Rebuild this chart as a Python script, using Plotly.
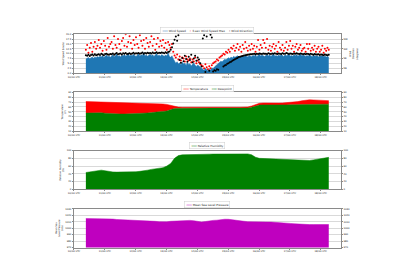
import pandas as pd
import plotly.graph_objects as go

# ---------------- data ----------------
start_time = "2017-07-10 09:15"

wind_speed = [
    7.2, 7.6, 8.0, 7.4, 7.8, 8.2, 7.6, 8.3, 7.9, 8.5,
    8.1, 8.7, 8.3, 9.0, 8.0, 8.5, 9.3, 8.4, 8.8, 8.1,
    8.6, 9.4, 8.4, 8.9, 10.0, 8.5, 9.0, 8.2, 9.2, 8.8,
    9.5, 8.7, 9.1, 10.3, 8.6, 9.3, 8.9, 9.7, 9.0, 8.5,
    9.2, 9.9, 8.7, 9.4, 9.0, 10.6, 8.8, 9.3, 8.6, 9.1,
    9.7, 8.9, 9.4, 8.5, 9.2, 10.1, 8.8, 9.3, 8.7, 9.5,
    9.0, 8.6, 9.3, 8.8, 10.5, 8.5, 8.1, 8.9, 7.4, 6.2,
    5.0, 5.8, 4.6, 5.3, 4.1, 5.6, 4.7, 5.1, 3.9, 5.4,
    4.4, 4.8, 3.6, 4.5, 5.2, 4.0, 3.4, 4.2, 3.7, 3.0,
    2.6, 2.0, 1.4, 2.4, 1.7, 1.1, 1.9, 1.5, 2.7, 2.3,
    3.1, 3.7, 4.4, 5.0, 5.6, 6.1, 5.8, 6.6, 7.1, 6.8,
    7.4, 7.9, 7.5, 8.2, 7.8, 8.6, 8.1, 8.4, 8.9, 8.3,
    8.7, 8.2, 9.0, 8.5, 9.2, 8.6, 8.3, 9.1, 8.8, 8.4,
    9.2, 8.7, 9.5, 8.4, 9.0, 9.8, 8.6, 9.3, 8.9, 8.5,
    9.1, 9.6, 8.8, 9.4, 8.5, 9.2, 9.9, 8.7, 9.0, 8.6,
    9.3, 8.8, 9.7, 9.0, 8.5, 9.4, 8.9, 9.2, 10.0, 8.6,
    9.1, 8.7, 9.4, 8.9, 9.5, 8.6, 9.2, 9.8, 8.8, 9.3,
    9.0, 8.5, 9.1, 8.7, 9.4, 8.9, 8.4, 9.2, 8.8, 8.6,
    9.0, 8.3, 8.9, 8.6, 9.2, 8.4, 8.8, 8.2, 8.6, 8.1,
]

wind_speed_max = [
    12, 14.5, 10.5, 13, 15.5, 11, 13.5, 16, 12.5, 14,
    17, 13, 15, 11.5, 16.5, 14, 12, 18, 13.5, 15,
    16, 12.5, 19, 14.5, 13, 17.5, 15, 12, 16.5, 18,
    14, 20, 13.5, 16, 19, 15.5, 12.5, 17, 14.5, 18.5,
    15, 13, 19.5, 16.5, 14, 17, 12.5, 18, 15.5, 13.5,
    16, 19, 14, 17.5, 12, 15, 18, 13.5, 16.5, 14,
    17, 13, 15.5, 12, 16, 14.5, 13, 15, 11, 9,
    8, 9.5, 7, 8.5, 6.5, 8, 7.5, 6, 8.5, 7,
    6.5, 7.5, 5.5, 7, 6, 8, 5, 6.5, 5.5, 4.5,
    4, 3.5, 2.5, 4.5, 3, 2, 3.5, 2.5, 4, 5,
    5.5, 6, 7, 6.5, 8, 8.5, 9, 10, 9.5, 11,
    10.5, 12, 11, 13, 12.5, 14, 11.5, 13, 15, 12,
    13.5, 11, 14.5, 12.5, 16, 13, 11.5, 14, 12, 15,
    12.5, 14, 11, 13.5, 17, 12, 14.5, 13, 17, 15.5,
    13, 17.5, 12, 14, 11.5, 13.5, 15, 12.5, 14, 11,
    16, 13, 12, 14.5, 11.5, 13, 16, 12, 14, 16.5,
    12.5, 14, 11, 13.5, 15, 12, 13, 14.5, 11.5, 12.5,
    13, 11, 15, 12.5, 15, 11.5, 13, 12, 14, 11,
    12.5, 13.5, 11, 12, 14, 10.5, 12.5, 11.5, 13, 12,
]

wind_direction = [
    165, 160, 170, 158, 168, 172, 162, 175, 166, 170,
    174, 168, 178, 171, 165, 176, 180, 172, 169, 177,
    175, 182, 170, 178, 185, 174, 179, 181, 173, 183,
    178, 186, 176, 180, 184, 177, 182, 188, 179, 183,
    181, 187, 178, 184, 190, 180, 185, 182, 188, 183,
    186, 181, 190, 184, 187, 192, 183, 189, 185, 191,
    188, 184, 193, 187, 195, 200, 215, 240, 275, 310,
    340, 300, 350, 120, 95, 140, 110, 160, 130, 105,
    150, 120, 170, 100, 135, 160, 115, 145, 125, 90,
    60, 320, 350, 10, 340, 365, 20, 355, 330, 15,
    25, 20, 35, 30, 560, 600, 580, 60, 70, 75,
    85, 90, 100, 105, 115, 120, 128, 135, 140, 148,
    150, 155, 158, 162, 165, 168, 170, 172, 175, 174,
    176, 178, 175, 180, 177, 182, 179, 176, 181, 178,
    180, 177, 183, 179, 176, 181, 178, 184, 180, 177,
    182, 179, 176, 183, 180, 178, 185, 181, 177, 182,
    179, 176, 181, 178, 183, 180, 177, 182, 179, 175,
    178, 174, 180, 176, 172, 178, 175, 170, 176, 173,
    171, 175, 168, 173, 170, 166, 172, 168, 165, 170,
]

temperature = [
    71.2, 71.0, 70.8, 70.6, 70.3, 70.0, 69.9, 69.8, 69.7, 69.6,
    69.5, 69.4, 69.2, 69.0, 68.8, 68.5, 68.0, 67.6, 67.1, 66.6,
    66.1, 65.2, 63.0, 60.5, 59.7, 59.5, 59.4, 59.3, 59.3, 59.3,
    59.2, 59.2, 59.2, 59.3, 59.3, 59.4, 59.4, 59.4, 59.5, 59.5,
    59.5, 59.6, 60.0, 62.0, 65.0, 67.5, 68.2, 67.8, 68.0, 68.3,
    67.9, 68.2, 68.6, 68.8, 69.5, 71.0, 72.8, 74.0, 74.8, 74.5,
    73.8, 73.5, 73.2, 73.0,
]

dewpoint = [
    47.3, 47.6, 48.0, 48.2, 48.0, 47.0, 46.3, 45.8, 45.5, 45.4,
    45.4, 45.5, 45.6, 45.8, 46.2, 46.8, 47.5, 48.3, 48.9, 49.5,
    50.2, 51.8, 54.5, 56.8, 57.4, 57.6, 57.6, 57.6, 57.6, 57.6,
    57.5, 57.5, 57.5, 57.6, 57.6, 57.6, 57.6, 57.6, 57.6, 57.6,
    57.6, 57.7, 58.0, 59.5, 62.0, 63.8, 64.2, 64.0, 64.0, 64.1,
    64.0, 64.2, 64.2, 64.5, 64.8, 65.0, 65.2, 65.4, 65.5, 65.6,
    65.6, 65.7, 65.7, 65.8,
]

relative_humidity = [
    43.5, 45, 47.5, 49, 49.5, 48, 46, 45, 44.5, 44.5,
    44.6, 45, 45.2, 45.5, 46.5, 47.5, 49.5, 51.5, 53, 54.5,
    56, 60, 67, 80, 87, 89, 89.5, 90, 90, 90.3,
    90.5, 90.5, 90.8, 91, 91, 91, 91.5, 92, 92, 92,
    92, 92, 91.5, 89, 83, 80, 79.5, 80, 79, 78.5,
    79, 78, 77.5, 77, 77, 76.5, 75.5, 75, 74.5, 76,
    77.5, 79, 81, 82.5,
]

pressure = [
    1014.8, 1014.8, 1014.7, 1014.7, 1014.6, 1014.6, 1014.5, 1014.0, 1013.4, 1013.2,
    1013.2, 1013.0, 1012.8, 1012.3, 1012.1, 1012.0, 1011.8, 1011.2, 1010.5, 1010.0,
    1009.6, 1009.8, 1010.6, 1011.1, 1011.4, 1011.8, 1012.0, 1012.0, 1011.4, 1010.4,
    1009.6, 1010.2, 1011.5, 1012.0, 1012.3, 1013.2, 1013.8, 1013.7, 1013.2, 1012.5,
    1011.5, 1010.6, 1010.0, 1009.7, 1009.6, 1009.6, 1009.6, 1009.5, 1009.4, 1009.2,
    1008.8, 1008.3, 1007.8, 1007.3, 1006.8, 1006.2, 1005.8, 1005.6, 1005.5, 1005.5,
    1005.4, 1005.5, 1005.6, 1005.6,
]

wind_times = pd.date_range(start_time, periods=len(wind_speed), freq="h")
thermo_times = pd.date_range(start_time, periods=len(temperature), freq="3h")

# ---------------- styling ----------------
FONT = "DejaVu Sans"
TICK = 2.4
LEG = 2.9
XDOM = [0.1719, 0.85]
ROWS = [[0.74, 0.88], [0.53, 0.67], [0.32, 0.46], [0.11, 0.25]]
BLUE = "#1f77b4"
RED = "#ff0000"
GREEN = "#008000"
MAG = "#bf00bf"

span = wind_times[-1] - wind_times[0]
xr = [(wind_times[0] - 0.05 * span).strftime("%Y-%m-%d %H:%M:%S"),
      (wind_times[-1] + 0.05 * span).strftime("%Y-%m-%d %H:%M:%S")]

fig = go.Figure()

fig.add_trace(go.Scatter(x=wind_times, y=wind_speed, mode="lines", fill="tozeroy",
                         line=dict(color=BLUE, width=0.5), fillcolor=BLUE,
                         xaxis="x", yaxis="y", showlegend=False))
fig.add_trace(go.Scatter(x=wind_times, y=wind_speed_max, mode="markers",
                         marker=dict(color=RED, size=2), xaxis="x", yaxis="y",
                         showlegend=False))
fig.add_trace(go.Scatter(x=wind_times, y=wind_direction, mode="markers",
                         marker=dict(color="black", size=2), xaxis="x", yaxis="y2",
                         cliponaxis=False, showlegend=False))

fig.add_trace(go.Scatter(x=thermo_times, y=dewpoint, mode="lines", fill="tozeroy",
                         line=dict(color=GREEN, width=0.5), fillcolor=GREEN,
                         xaxis="x2", yaxis="y3", showlegend=False))
fig.add_trace(go.Scatter(x=thermo_times, y=temperature, mode="lines", fill="tonexty",
                         line=dict(color=RED, width=0.5), fillcolor=RED,
                         xaxis="x2", yaxis="y3", showlegend=False))
# twin (right) axis carries the same temperature data, drawn invisibly
fig.add_trace(go.Scatter(x=thermo_times, y=temperature, mode="lines",
                         line=dict(color="rgba(0,0,0,0)", width=0), hoverinfo="skip",
                         xaxis="x2", yaxis="y4", showlegend=False))

fig.add_trace(go.Scatter(x=thermo_times, y=relative_humidity, mode="lines", fill="tozeroy",
                         line=dict(color=GREEN, width=0.5), fillcolor=GREEN,
                         xaxis="x3", yaxis="y5", showlegend=False))
fig.add_trace(go.Scatter(x=thermo_times, y=relative_humidity, mode="lines",
                         line=dict(color="rgba(0,0,0,0)", width=0), hoverinfo="skip",
                         xaxis="x3", yaxis="y6", showlegend=False))

fig.add_trace(go.Scatter(x=thermo_times, y=pressure, mode="lines", fill="tozeroy",
                         line=dict(color=MAG, width=0.5), fillcolor=MAG,
                         xaxis="x4", yaxis="y7", showlegend=False))
fig.add_trace(go.Scatter(x=thermo_times, y=pressure, mode="lines",
                         line=dict(color="rgba(0,0,0,0)", width=0), hoverinfo="skip",
                         xaxis="x4", yaxis="y8", showlegend=False))

axis_common = dict(showline=True, linecolor="#8a8a8a", linewidth=1, mirror=True,
                   ticks="outside", ticklen=1, tickwidth=0.5, tickcolor="#8a8a8a",
                   tickfont=dict(family=FONT, size=TICK, color="#222"), zeroline=False)

xcommon = dict(axis_common, type="date", range=xr, dtick=86400000, tick0="2017-07-10",
               tickformat="%d/%H UTC", showgrid=False, domain=XDOM)

layout = dict(
    width=400, height=280, margin=dict(l=0, r=0, t=0, b=0),
    paper_bgcolor="white", plot_bgcolor="white",
    font=dict(family=FONT, size=TICK, color="#222"),
    xaxis=dict(xcommon, anchor="y"),
    xaxis2=dict(xcommon, anchor="y3"),
    xaxis3=dict(xcommon, anchor="y5"),
    xaxis4=dict(xcommon, anchor="y7"),
)

grid = dict(showgrid=True, gridcolor="#d9d9d9", gridwidth=0.6)
ytitle_font = dict(family=FONT, size=TICK, color="#222")


def left(dom, rng, dtick, title, anchor_x, fmt=None):
    d = dict(axis_common, domain=dom, range=rng, dtick=dtick, tick0=rng[0], anchor=anchor_x,
             title=dict(text=title, font=ytitle_font, standoff=2), **grid)
    if fmt:
        d["tickformat"] = fmt
    return d


def right(dom, rng, overlay, anchor_x, title="", dtick=None, tickvals=None, ticktext=None):
    d = dict(axis_common, domain=dom, range=rng, overlaying=overlay, side="right",
             anchor=anchor_x, showgrid=False,
             title=dict(text=title, font=ytitle_font, standoff=2))
    if tickvals is not None:
        d.update(tickmode="array", tickvals=tickvals, ticktext=ticktext)
    else:
        d.update(dtick=dtick, tick0=rng[0])
    return d


layout["yaxis"] = left(ROWS[0], [0, 20], 2.5, "Wind Speed (knots)", "x", ".1f")
layout["yaxis2"] = right(ROWS[0], [0, 360], "y", "x", "Wind<br>Direction<br>(degrees)",
                         tickvals=[45, 135, 225, 315], ticktext=["NE", "SE", "SW", "NW"])

layout["yaxis3"] = left(ROWS[1], [10, 90], 10, "Temperature<br>(F)", "x2")
layout["yaxis4"] = right(ROWS[1], [10, 90], "y3", "x2", dtick=10)

layout["yaxis5"] = left(ROWS[2], [0, 100], 20, "Relative Humidity<br>(%)", "x3")
layout["yaxis6"] = right(ROWS[2], [0, 100], "y5", "x3", dtick=20)

layout["yaxis7"] = left(ROWS[3], [970, 1030], 10, "Mean Sea<br>Level Pressure<br>(mb)", "x4")
layout["yaxis8"] = right(ROWS[3], [970, 1030], "y7", "x4", dtick=10)

fig.update_layout(**layout)

# legends (one per panel, above each panel)
xc = (XDOM[0] + XDOM[1]) / 2
legends = [
    (1 - 25.8 / 280,
     f"<span style='color:{BLUE}'>━━━</span> Wind Speed    "
     f"<span style='color:{RED}'>•</span> 3-sec Wind Speed Max    "
     f"<span style='color:black'>•</span> Wind Direction"),
    (1 - 84.6 / 280,
     f"<span style='color:{RED}'>━━━</span> Temperature    "
     f"<span style='color:{GREEN}'>━━━</span> Dewpoint"),
    (1 - 142.6 / 280,
     f"<span style='color:{GREEN}'>━━━</span> Relative Humidity"),
    (1 - 202.2 / 280,
     f"<span style='color:{MAG}'>━━━</span> Mean Sea Level Pressure"),
]
for ypos, txt in legends:
    fig.add_annotation(x=xc, y=ypos, xref="paper", yref="paper", xanchor="center",
                       yanchor="top", showarrow=False, text=txt,
                       font=dict(family=FONT, size=LEG, color="#222"),
                       bgcolor="white", bordercolor="#cccccc", borderwidth=0.5, borderpad=1)

fig.write_html("out.html")
